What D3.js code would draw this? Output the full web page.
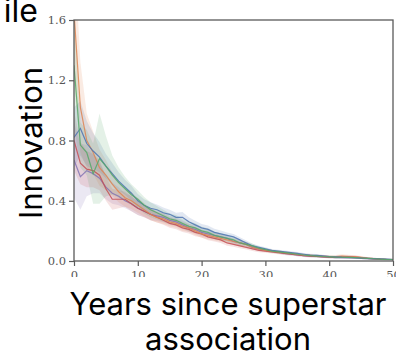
<!DOCTYPE html>
<html>
<head>
<meta charset="utf-8">
<script src="https://cdn.jsdelivr.net/npm/d3@7"></script>
<style>
  body { margin: 0; background: #fff; }
  svg { display: block; }
  .tick text { font-family: "DejaVu Serif", "Liberation Serif", serif; fill: #555; }
  .big { font-family: Inter, "Noto Sans", sans-serif; font-weight: 400; fill: #000; }
</style>
</head>
<body>
<svg width="396" height="353"></svg>
<script>
// years 0..50
let years = d3.range(0, 51);

let blue = [0.82,0.88,0.78,0.73,0.69,0.63,0.58,0.53,0.49,0.45,0.40,0.37,0.35,0.34,0.32,0.31,0.29,0.29,0.26,0.24,
            0.22,0.21,0.19,0.18,0.17,0.16,0.14,0.12,0.10,0.09,0.08,0.07,0.065,0.06,0.055,0.05,0.045,0.04,0.038,0.035,
            0.03,0.028,0.026,0.025,0.022,0.02,0.018,0.016,0.014,0.012,0.01];
let orange = [1.65,1.02,0.80,0.72,0.62,0.57,0.51,0.46,0.42,0.40,0.37,0.34,0.31,0.29,0.28,0.26,0.25,0.23,0.22,0.20,
              0.18,0.17,0.16,0.15,0.14,0.13,0.12,0.11,0.09,0.08,0.07,0.065,0.06,0.055,0.05,0.045,0.04,0.038,0.035,0.032,
              0.03,0.03,0.032,0.03,0.028,0.025,0.02,0.016,0.013,0.011,0.01];
let green = [1.30,0.77,0.72,0.58,0.68,0.63,0.57,0.52,0.48,0.44,0.41,0.37,0.34,0.32,0.30,0.28,0.27,0.25,0.23,0.22,
             0.20,0.19,0.17,0.16,0.15,0.14,0.12,0.11,0.10,0.085,0.075,0.065,0.06,0.055,0.05,0.045,0.04,0.036,0.033,0.03,
             0.028,0.026,0.025,0.024,0.022,0.02,0.018,0.015,0.012,0.01,0.01];
let red = [0.80,0.65,0.61,0.60,0.57,0.48,0.41,0.41,0.41,0.38,0.35,0.33,0.31,0.29,0.27,0.25,0.24,0.22,0.21,0.19,
           0.18,0.16,0.15,0.14,0.12,0.11,0.10,0.09,0.08,0.07,0.065,0.06,0.055,0.05,0.045,0.04,0.035,0.032,0.03,0.028,
           0.025,0.025,0.028,0.03,0.027,0.022,0.018,0.015,0.012,0.01,0.01];
let purple = [0.67,0.56,0.60,0.58,0.55,0.49,0.45,0.43,0.40,0.38,0.35,0.33,0.31,0.30,0.29,0.27,0.26,0.24,0.22,0.21,
              0.19,0.18,0.17,0.16,0.15,0.13,0.12,0.11,0.09,0.08,0.07,0.065,0.06,0.05,0.045,0.04,0.036,0.033,0.03,0.027,
              0.025,0.023,0.022,0.021,0.02,0.018,0.015,0.013,0.011,0.01,0.01];

// confidence half-widths
let blueCI = [0.20,0.18,0.15,0.12,0.10,0.08,0.07,0.06,0.05,0.05,0.045,0.04,0.04,0.035,0.035,0.03,0.03,0.035,0.03,0.027,
              0.025,0.025,0.024,0.022,0.02,0.02,0.018,0.016,0.014,0.012,0.011,0.01,0.01,0.01,0.009,0.009,0.008,0.008,0.008,0.007,
              0.007,0.007,0.007,0.006,0.006,0.006,0.006,0.005,0.005,0.005,0.005];
let orangeCI = [0.45,0.30,0.18,0.14,0.12,0.10,0.08,0.07,0.06,0.055,0.05,0.045,0.04,0.035,0.035,0.03,0.03,0.03,0.028,0.027,
                0.025,0.025,0.024,0.022,0.02,0.02,0.018,0.016,0.014,0.012,0.011,0.01,0.012,0.01,0.009,0.009,0.008,0.009,0.008,0.008,
                0.01,0.01,0.012,0.011,0.01,0.008,0.007,0.006,0.006,0.005,0.005];
let greenCI = [0.40,0.15,0.15,0.20,0.30,0.20,0.13,0.10,0.08,0.07,0.06,0.055,0.05,0.045,0.04,0.035,0.035,0.03,0.03,0.03,
               0.028,0.027,0.026,0.024,0.022,0.02,0.018,0.016,0.014,0.012,0.011,0.01,0.01,0.01,0.009,0.009,0.008,0.008,0.008,0.007,
               0.007,0.007,0.007,0.006,0.006,0.006,0.006,0.005,0.005,0.005,0.005];
let redCI = [0.20,0.14,0.12,0.11,0.10,0.08,0.07,0.06,0.05,0.05,0.045,0.04,0.04,0.035,0.03,0.03,0.03,0.028,0.027,0.025,
             0.024,0.022,0.02,0.02,0.018,0.016,0.015,0.014,0.013,0.012,0.011,0.01,0.01,0.01,0.009,0.009,0.008,0.008,0.008,0.007,
             0.008,0.008,0.01,0.01,0.009,0.008,0.007,0.006,0.006,0.005,0.005];
let purpleCI = [0.25,0.22,0.17,0.13,0.10,0.08,0.07,0.06,0.05,0.05,0.045,0.04,0.04,0.035,0.035,0.03,0.03,0.03,0.028,0.027,
                0.025,0.025,0.024,0.022,0.02,0.02,0.018,0.016,0.014,0.012,0.011,0.01,0.01,0.01,0.009,0.009,0.008,0.008,0.008,0.007,
                0.007,0.007,0.007,0.006,0.006,0.006,0.006,0.005,0.005,0.005,0.005];

let seriesNames = ['purple', 'red', 'orange', 'blue', 'green'];
let seriesVals = { blue, orange, green, red, purple };
let seriesCI = { blue: blueCI, orange: orangeCI, green: greenCI, red: redCI, purple: purpleCI };
let colors = { blue: '#4c72b0', orange: '#dd8452', green: '#55a868', red: '#c44e52', purple: '#8172b3' };

let xTicks = [0, 10, 20, 30, 40, 50];
let yTicks = [0, 0.4, 0.8, 1.2, 1.6];

let margin = { left: 74, right: 393, top: 20, bottom: 261 };

let svg = d3.select('svg');

let x = d3.scaleLinear().domain([0, 50]).range([margin.left, margin.right]);
let y = d3.scaleLinear().domain([0, 1.6]).range([margin.bottom, margin.top]);

svg.append('clipPath').attr('id', 'plotclip')
  .append('rect')
    .attr('x', margin.left).attr('y', margin.top)
    .attr('width', margin.right - margin.left).attr('height', margin.bottom - margin.top);

let plot = svg.append('g').attr('clip-path', 'url(#plotclip)');

// bands first
seriesNames.forEach(name => {
  let vals = seriesVals[name], ci = seriesCI[name];
  let area = d3.area()
    .x((d, i) => x(years[i]))
    .y0((d, i) => y(Math.max(0, vals[i] - ci[i])))
    .y1((d, i) => y(vals[i] + ci[i]));
  plot.append('path')
    .datum(vals)
    .attr('d', area)
    .attr('fill', colors[name])
    .attr('fill-opacity', 0.16);
});

// then lines
seriesNames.forEach(name => {
  let line = d3.line()
    .x((d, i) => x(years[i]))
    .y(d => y(d));
  plot.append('path')
    .datum(seriesVals[name])
    .attr('d', line)
    .attr('fill', 'none')
    .attr('stroke', colors[name])
    .attr('stroke-width', 1.2)
    .attr('stroke-opacity', 0.85);
});

// frame
svg.append('rect')
  .attr('x', margin.left).attr('y', margin.top)
  .attr('width', margin.right - margin.left).attr('height', margin.bottom - margin.top)
  .attr('fill', 'none')
  .attr('stroke', '#5a5a5a')
  .attr('stroke-width', 1.3);

let yAxis = svg.append('g')
  .attr('transform', `translate(${margin.left},0)`)
  .call(d3.axisLeft(y).tickValues(yTicks).tickFormat(d3.format('.1f')).tickSize(5).tickPadding(3));
let xAxis = svg.append('g')
  .attr('transform', `translate(0,${margin.bottom})`)
  .call(d3.axisBottom(x).tickValues(xTicks).tickSize(5).tickPadding(5));

[yAxis, xAxis].forEach(a => {
  a.select('.domain').remove();
  a.selectAll('.tick line').attr('stroke', '#5a5a5a').attr('stroke-width', 1.2);
  a.selectAll('.tick text').style('font-size', '11.5px');
});

// the lower part of the x tick labels is hidden under the caption
svg.append('rect')
  .attr('x', 0).attr('y', 277)
  .attr('width', 396).attr('height', 76)
  .attr('fill', '#fff');

svg.append('text')
  .attr('class', 'big')
  .attr('x', 38).attr('y', 22)
  .attr('text-anchor', 'end')
  .style('font-size', '32px')
  .text('ile');

svg.append('text')
  .attr('class', 'big')
  .attr('transform', 'translate(42,143) rotate(-90)')
  .attr('text-anchor', 'middle')
  .style('font-size', '31px')
  .text('Innovation');

svg.append('text')
  .attr('class', 'big')
  .attr('x', 228).attr('y', 315)
  .attr('text-anchor', 'middle')
  .style('font-size', '31px')
  .text('Years since superstar');

svg.append('text')
  .attr('class', 'big')
  .attr('x', 228).attr('y', 350)
  .attr('text-anchor', 'middle')
  .style('font-size', '31px')
  .text('association');
</script>
</body>
</html>
